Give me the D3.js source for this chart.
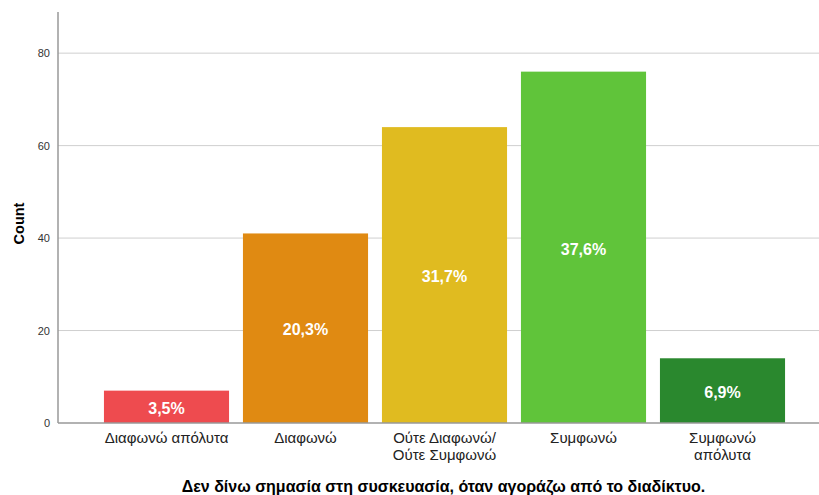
<!DOCTYPE html>
<html>
<head>
<meta charset="utf-8">
<script src="https://cdn.jsdelivr.net/npm/d3@7"></script>
<style>
  html, body { margin: 0; padding: 0; background: #fff; }
  svg { display: block; font-family: "Liberation Sans", Arial, sans-serif; }
</style>
</head>
<body>
<svg id="chart" width="819" height="495"></svg>
<script>
const categories = ["Διαφωνώ απόλυτα", "Διαφωνώ", "Ούτε Διαφωνώ/\nΟύτε Συμφωνώ", "Συμφωνώ", "Συμφωνώ\nαπόλυτα"];
const counts = [7, 41, 64, 76, 14];
const percentLabels = ["3,5%", "20,3%", "31,7%", "37,6%", "6,9%"];
const colors = ["#EE4B4F", "#E08A12", "#E0BB20", "#60C43A", "#2A882E"];
const yTicks = [0, 20, 40, 60, 80];
const xTitle = "Δεν δίνω σημασία στη συσκευασία, όταν αγοράζω από το διαδίκτυο.";
const yTitle = "Count";

(function () {
const svg = d3.select("#chart");
const mL = 58, mR = 819, mT = 12, mB = 423;

const y = d3.scaleLinear().domain([0, 88.9]).range([mB, mT]);
const x = d3.scaleBand().domain(d3.range(categories.length)).range([97, 792]).paddingInner(0.1).paddingOuter(0.05);

// gridlines
svg.append("g").selectAll("line").data(yTicks.filter(d => d > 0)).join("line")
  .attr("x1", mL).attr("x2", mR)
  .attr("y1", d => y(d)).attr("y2", d => y(d))
  .attr("stroke", "#cfcfcf").attr("stroke-width", 1);

// bars
svg.append("g").selectAll("rect").data(counts).join("rect")
  .attr("x", (d, i) => x(i)).attr("width", x.bandwidth())
  .attr("y", d => y(d)).attr("height", d => mB - y(d))
  .attr("fill", (d, i) => colors[i]);

// value labels
svg.append("g").selectAll("text").data(counts).join("text")
  .attr("x", (d, i) => x(i) + x.bandwidth() / 2)
  .attr("y", d => (y(d) + mB) / 2)
  .attr("dy", "0.45em")
  .attr("text-anchor", "middle")
  .attr("fill", "#fff").attr("font-weight", "bold").attr("font-size", 16)
  .text((d, i) => percentLabels[i]);

// y axis
const yAxis = svg.append("g").attr("transform", `translate(${mL},0)`)
  .call(d3.axisLeft(y).tickValues(yTicks).tickSize(0).tickPadding(8));
yAxis.select(".domain").remove();
yAxis.selectAll("text").attr("font-size", 11).attr("fill", "#333")
  .attr("font-family", "'Liberation Sans', Arial, sans-serif");
svg.append("line").attr("x1", mL).attr("x2", mL).attr("y1", mT).attr("y2", mB)
  .attr("stroke", "#999").attr("stroke-width", 1.5);

// x axis
svg.append("line").attr("x1", mL).attr("x2", mR).attr("y1", mB).attr("y2", mB)
  .attr("stroke", "#999").attr("stroke-width", 1.5);
const xl = svg.append("g").selectAll("text").data(categories).join("text")
  .attr("x", (d, i) => x(i) + x.bandwidth() / 2)
  .attr("y", 443)
  .attr("text-anchor", "middle").attr("font-size", 15).attr("fill", "#222");
xl.each(function(d) {
  const t = d3.select(this);
  d.split("\n").forEach((line, k) => {
    t.append("tspan").attr("x", t.attr("x")).attr("dy", k === 0 ? 0 : 17).text(line);
  });
});

// titles
svg.append("text").attr("x", (mL + mR) / 2 + 5).attr("y", 492)
  .attr("text-anchor", "middle").attr("font-size", 16).attr("font-weight", "bold").attr("fill", "#000")
  .text(xTitle);
svg.append("text").attr("transform", `translate(24, ${(mT + mB) / 2 + 6}) rotate(-90)`)
  .attr("text-anchor", "middle").attr("font-size", 14.5).attr("font-weight", "bold").attr("fill", "#000")
  .text(yTitle);
})();
</script>
</body>
</html>
